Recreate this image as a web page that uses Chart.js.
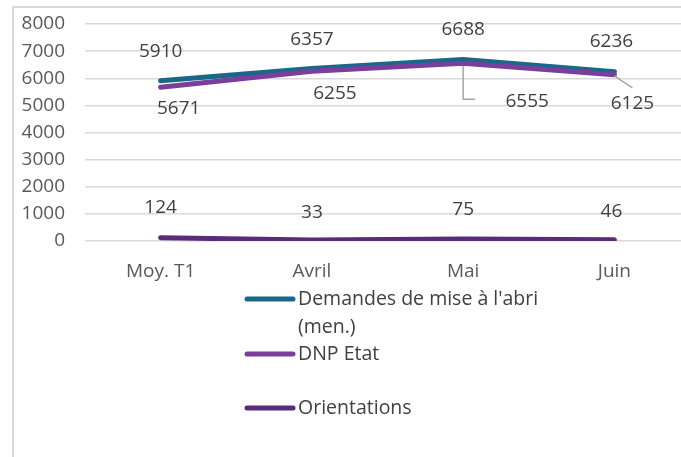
<!DOCTYPE html>
<html>
<head>
<meta charset="utf-8">
<script src="https://cdn.jsdelivr.net/npm/chart.js@4"></script>
<style>
  html, body { margin: 0; padding: 0; background: #fff; overflow: hidden; }
  canvas { display: block; }
</style>
</head>
<body>
<canvas id="chart" width="690" height="457"></canvas>
<script>
const categories = ['Moy. T1', 'Avril', 'Mai', 'Juin'];
const seriesNames = ["Demandes de mise à l'abri (men.)", 'DNP Etat', 'Orientations'];
const demandes = [5910, 6357, 6688, 6236];
const dnpEtat = [5671, 6255, 6555, 6125];
const orientations = [124, 33, 75, 46];
const yTicks = [0, 1000, 2000, 3000, 4000, 5000, 6000, 7000, 8000];

const FONT = '"Open Sans", sans-serif';
const colors = ['#1a6887', '#7a3e9d', '#5a2b78'];

// décalage des étiquettes de valeurs (dx, dy) par série
const labelOffsets = [
  [[0, -29], [0, -29], [0, -30], [-3, -30]],
  [[18, 21], [23, 22], [64, 38], [18, 29]],
  [[0, -30], [0, -28], [0, -29], [-3, -28]]
];

// cadre gris de la zone graphique
const framePlugin = {
  id: 'frame',
  beforeDraw(chart) {
    const c = chart.ctx;
    c.save();
    c.strokeStyle = '#d9d9d9';
    c.lineWidth = 2;
    c.beginPath();
    c.moveTo(13, 457);
    c.lineTo(13, 7);
    c.lineTo(chart.width, 7);
    c.stroke();
    c.restore();
  }
};

// étiquettes de données + traits de rappel
const labelsPlugin = {
  id: 'valueLabels',
  afterDatasetsDraw(chart) {
    const c = chart.ctx;
    c.save();
    c.font = '19px ' + FONT;
    c.fillStyle = '#404040';
    c.textAlign = 'center';
    c.textBaseline = 'middle';
    chart.data.datasets.forEach((ds, i) => {
      const meta = chart.getDatasetMeta(i);
      meta.data.forEach((pt, j) => {
        const off = labelOffsets[i][j];
        c.fillText(String(ds.data[j]), pt.x + off[0], pt.y + off[1]);
      });
    });
    // traits de rappel pour DNP Etat (Mai, Juin)
    const dnp = chart.getDatasetMeta(1).data;
    c.strokeStyle = '#a6a6a6';
    c.lineWidth = 1.5;
    c.beginPath();
    c.moveTo(dnp[2].x, dnp[2].y + 3);
    c.lineTo(dnp[2].x, dnp[2].y + 36);
    c.lineTo(dnp[2].x + 12, dnp[2].y + 36);
    c.moveTo(dnp[3].x, dnp[3].y + 1);
    c.lineTo(dnp[3].x + 18, dnp[3].y + 13);
    c.stroke();
    c.restore();
  }
};

// légende dessinée à la main (une colonne, comme l'original)
const legendPlugin = {
  id: 'customLegend',
  afterDraw(chart) {
    const c = chart.ctx;
    const rows = [
      { lines: ["Demandes de mise à l'abri", '(men.)'], y: 299 },
      { lines: ['DNP Etat'], y: 354 },
      { lines: ['Orientations'], y: 408 }
    ];
    c.save();
    c.font = '19.5px ' + FONT;
    c.textAlign = 'left';
    c.textBaseline = 'middle';
    rows.forEach((r, i) => {
      c.strokeStyle = colors[i];
      c.lineWidth = 5;
      c.lineCap = 'round';
      c.beginPath();
      c.moveTo(247, r.y);
      c.lineTo(293, r.y);
      c.stroke();
      c.fillStyle = '#404040';
      r.lines.forEach((t, k) => c.fillText(t, 298, r.y + k * 28));
    });
    c.restore();
  }
};

const seriesData = [demandes, dnpEtat, orientations];

new Chart(document.getElementById('chart'), {
  type: 'line',
  data: {
    labels: categories,
    datasets: seriesNames.map((name, i) => ({
      label: name,
      data: seriesData[i],
      borderColor: colors[i],
      backgroundColor: colors[i],
      borderWidth: 5,
      borderCapStyle: 'round',
      borderJoinStyle: 'round',
      pointRadius: 0,
      tension: 0,
      order: i === 0 ? 2 : 1
    }))
  },
  options: {
    responsive: false,
    animation: false,
    layout: { padding: { top: 24, left: 0, right: 0, bottom: 0 } },
    plugins: {
      legend: { display: false },
      tooltip: { enabled: false }
    },
    scales: {
      x: {
        offset: true,
        grid: { display: false },
        border: { display: false },
        ticks: { color: '#595959', font: { family: FONT, size: 19 }, padding: 11 },
        afterFit(scale) { scale.height = 216; }
      },
      y: {
        min: 0,
        max: 8000,
        afterBuildTicks(scale) { scale.ticks = yTicks.map(v => ({ value: v })); },
        grid: { color: '#d9d9d9', lineWidth: 1.5, drawTicks: false },
        border: { display: false },
        ticks: {
          color: '#595959',
          font: { family: FONT, size: 19 },
          padding: 20,
          callback: (v) => String(v)
        },
        afterFit(scale) {
          scale.width = 85;
          scale.paddingTop = 0;
          scale.paddingBottom = 0;
        }
      }
    }
  },
  plugins: [framePlugin, labelsPlugin, legendPlugin]
});
</script>
</body>
</html>
